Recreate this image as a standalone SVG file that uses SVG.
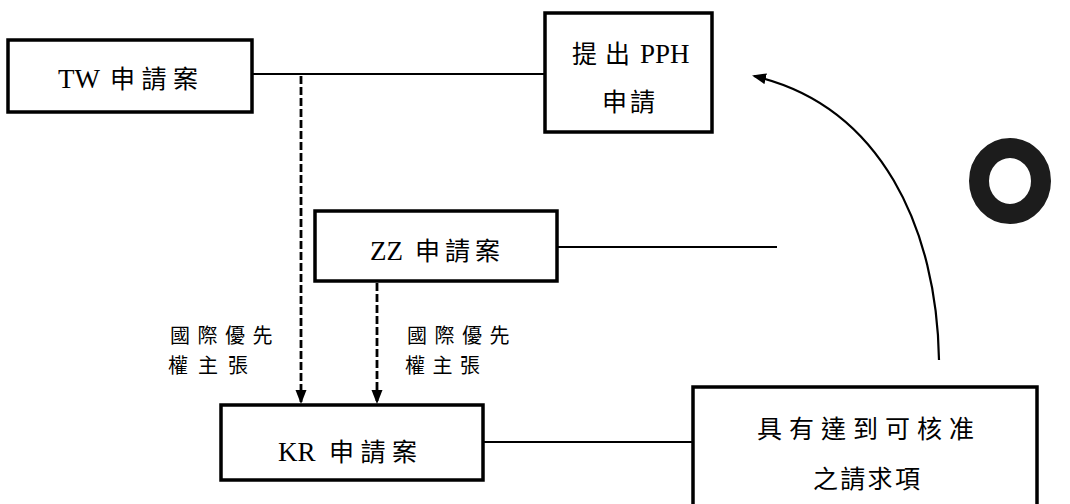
<svg xmlns="http://www.w3.org/2000/svg" width="1070" height="504" viewBox="0 0 1070 504">
<defs>
<style>
.box{fill:#fff;stroke:#000;stroke-width:3.5}
.ln{fill:none;stroke:#000;stroke-width:2.2}
.dash{fill:none;stroke:#000;stroke-width:2.8;stroke-dasharray:8 3}
.lat{font-family:"Liberation Serif",serif;font-size:27px;fill:#000}
.cjk{font-family:"Noto Sans CJK TC","Noto Sans CJK SC",sans-serif;font-size:25px;fill:#000}
.lab{font-family:"Noto Sans CJK TC","Noto Sans CJK SC",sans-serif;font-size:20px;fill:#000}
</style>
<marker id="ah" markerWidth="14" markerHeight="12" refX="12" refY="6" orient="auto" markerUnits="userSpaceOnUse">
<path d="M0,0.5 L14,6 L0,11.5 Z" fill="#000"/>
</marker>
</defs>
<rect width="1070" height="504" fill="#fff"/>
<g id="connectors">
<line class="ln" x1="252" y1="74" x2="545" y2="74"/>
<line class="ln" x1="557" y1="247" x2="777" y2="247"/>
<line class="ln" x1="483" y1="442" x2="693" y2="442"/>
<line class="dash" x1="301" y1="76" x2="301" y2="402" marker-end="url(#ah)"/>
<line class="dash" x1="377" y1="283" x2="377" y2="402" marker-end="url(#ah)"/>
<path class="ln" d="M 939 360 C 937 230 882 106 754 76" marker-end="url(#ah)"/>
</g>
<g id="tw">
<rect class="box" x="8" y="40" width="244" height="72"/>
<text class="lat" x="58" y="88">TW</text>
<text class="cjk" x="110" y="88" letter-spacing="6.5">申請案</text>
</g>
<g id="pph">
<rect class="box" x="545" y="13" width="167" height="119"/>
<text class="cjk" x="572" y="63" letter-spacing="8">提出</text>
<text class="lat" x="640" y="63">PPH</text>
<text class="cjk" x="602" y="111" letter-spacing="3">申請</text>
</g>
<g id="zz">
<rect class="box" x="315" y="211" width="242" height="70"/>
<text class="lat" x="370" y="260">ZZ</text>
<text class="cjk" x="415" y="260" letter-spacing="5">申請案</text>
</g>
<g id="kr">
<rect class="box" x="221" y="405" width="262" height="75"/>
<text class="lat" x="278" y="461">KR</text>
<text class="cjk" x="329" y="461" letter-spacing="6.5">申請案</text>
</g>
<g id="claims">
<rect class="box" x="693" y="387" width="344" height="130"/>
<text class="cjk" x="757" y="438" letter-spacing="7">具有達到可核准</text>
<text class="cjk" x="813" y="488" letter-spacing="2.3">之請求項</text>
</g>
<g id="label1">
<text class="lab" x="170" y="343" letter-spacing="7.5">國際優先</text>
<text class="lab" x="168" y="373" letter-spacing="10">權主張</text>
</g>
<g id="label2">
<text class="lab" x="407" y="343" letter-spacing="7.5">國際優先</text>
<text class="lab" x="405" y="373" letter-spacing="7.5">權主張</text>
</g>
<g id="ring">
<ellipse cx="1010" cy="181" rx="31" ry="33" fill="none" stroke="#1c1c1c" stroke-width="20"/>
</g>
</svg>
